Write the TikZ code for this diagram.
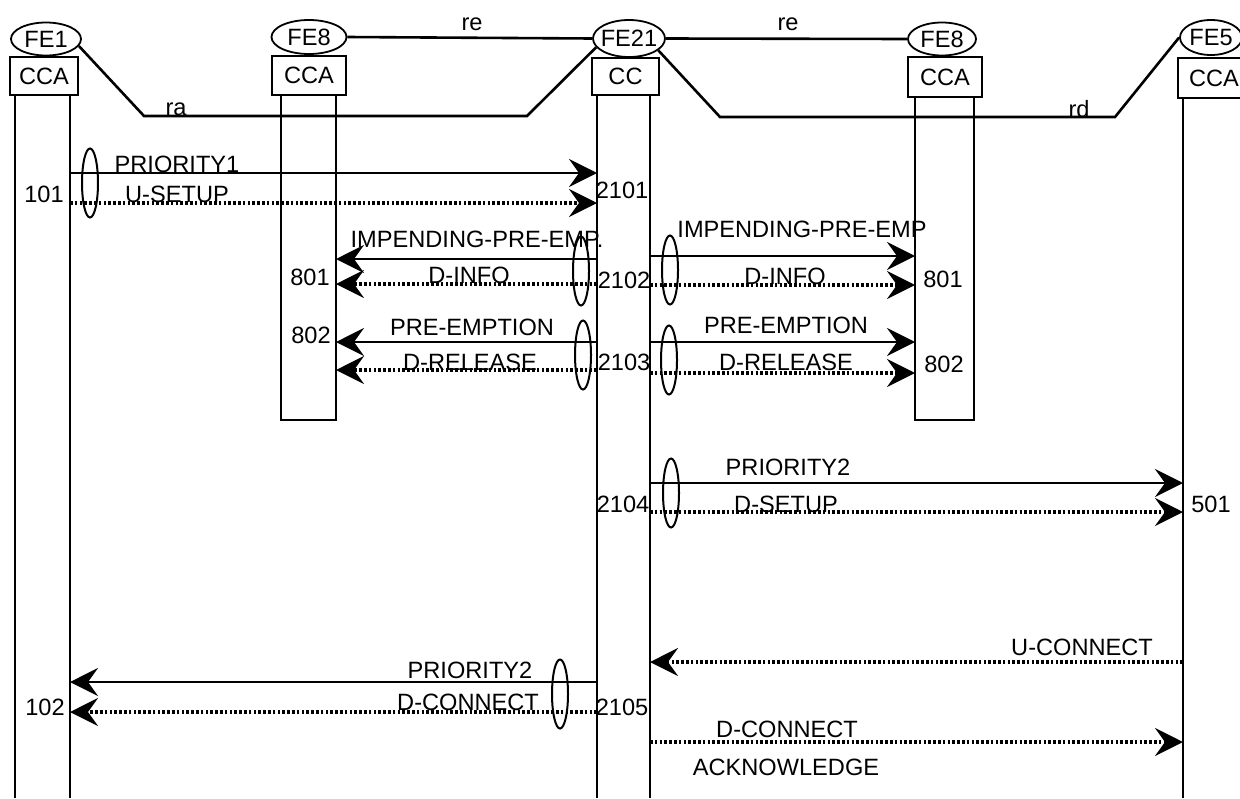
\documentclass[tikz,border=0pt]{standalone}
\usepackage{fontspec}
\setmainfont{Liberation Sans}
\usepackage{tikz}
\usetikzlibrary{arrows.meta,positioning,shapes.geometric,calc}

\begin{document}
\begin{tikzpicture}[
  x=0.5pt, y=-0.5pt,
  font=\fontsize{11.8}{13}\selectfont,
  fe/.style = {ellipse, draw, line width=0.9pt, inner sep=0pt},
  box/.style = {rectangle, draw, line width=1.3pt, inner sep=0pt},
  oval/.style = {ellipse, draw, line width=1pt, inner sep=0pt,
    minimum width=8pt, minimum height=34.5pt},
  life/.style = {line width=1.2pt},
  link/.style = {line width=1.3pt},
  sig/.style = {line width=1.4pt, -{Stealth[length=14pt,width=14pt,inset=5pt]}},
  dsig/.style = {sig, line width=1.6pt, dash pattern=on 1.3pt off 1.1pt},
  lbl/.style = {inner sep=0pt, anchor=base}
]
  \useasboundingbox (0,0) rectangle (1240,798);
  \clip (0,0) rectangle (1240,798);

  % functional entities
  \node[fe, minimum width=35pt, minimum height=16.5pt, label=center:FE1]  (fe1)  at (46,39)     {};
  \node[fe, minimum width=37.5pt, minimum height=17pt, label=center:FE8] (fe8a) at (309,37)    {};
  \node[fe, minimum width=36pt, minimum height=18.5pt, label=center:FE21] (fe21) at (629,38.5) {};
  \node[fe, minimum width=34pt, minimum height=16.5pt, label=center:FE8] (fe8b) at (942,39)    {};
  \node[fe, minimum width=31pt, minimum height=17.5pt, label=center:FE5] (fe5)  at (1211,37.5) {};

  \node[box, minimum width=34pt, minimum height=19pt]     (cca1)  at (44,76)     {CCA};
  \node[box, minimum width=37pt, minimum height=19.5pt]   (cca8a) at (309,75.5)  {CCA};
  \node[box, minimum width=33.5pt, minimum height=18.5pt] (cc21)  at (625.5,76.5) {CC};
  \node[box, minimum width=37pt, minimum height=20pt]     (cca8b) at (945,77)    {CCA};
  \node[box, minimum width=36pt, minimum height=20pt]     (cca5)  at (1214,78)   {CCA};

  % lifelines
  \draw[life] (15,95) -- (15,798);
  \draw[life] (70,95) -- (70,798);
  \draw[life] (281,95) rectangle (336,420);
  \draw[life] (597,95) -- (597,798);
  \draw[life] (650,95) -- (650,798);
  \draw[life] (915,97) rectangle (974,420);
  \draw[life] (1183,98) -- (1183,798);

  % relationships
  \coordinate (ra1) at (144,116);
  \coordinate (ra2) at (527,116);
  \coordinate (rd1) at (720,117);
  \coordinate (rd2) at (1115,117);
  \draw[link] (fe8a.east) -- (fe21.west);
  \draw[link] (fe21.east) -- (fe8b.west);
  \draw[link] (fe1.-12) -- (ra1) -- (ra2) -- (fe21.195);
  \draw[link] (fe21.-22) -- (rd1) -- (rd2) -- (fe5.west);
  \node[lbl] (lre1) at (472,30)  {re};
  \node[lbl] (lre2) at (788,30)  {re};
  \node[lbl] (lra)  at (176,115) {ra};
  \node[lbl] (lrd)  at (1079,117) {rd};

  % message ends on the lifelines
  \coordinate (p1)   at (70,0);
  \coordinate (p8a)  at (336,0);
  \coordinate (p21l) at (597,0);
  \coordinate (p21r) at (650,0);
  \coordinate (p8b)  at (915,0);
  \coordinate (p5)   at (1183,0);

  \coordinate (m1)  at (0,173);
  \coordinate (m2)  at (0,203);
  \coordinate (m3)  at (0,259);
  \coordinate (m4)  at (0,284);
  \coordinate (m5)  at (0,256);
  \coordinate (m6)  at (0,285);
  \coordinate (m7)  at (0,342);
  \coordinate (m8)  at (0,370);
  \coordinate (m9)  at (0,373);
  \coordinate (m10) at (0,483);
  \coordinate (m11) at (0,512);
  \coordinate (m12) at (0,662);
  \coordinate (m13) at (0,682);
  \coordinate (m14) at (0,712);
  \coordinate (m15) at (0,742);

  % set up
  \draw[sig]  (p1 |- m1) -- (p21l |- m1);
  \draw[dsig] (p1 |- m2) -- (p21l |- m2);
  \node[lbl] (t1)  at (177,172) {PRIORITY1};
  \node[lbl] (t2)  at (177,202) {U-SETUP};
  \node[lbl] (n101)  at (44,202)  {101};
  \node[lbl] (n2101) at (622,198) {2101};
  \node[oval] (o1) at (90,183) {};

  % pre-emption towards both FE8
  \draw[sig]  (p21l |- m3) -- (p8a |- m3);
  \draw[dsig] (p21l |- m4) -- (p8a |- m4);
  \draw[sig]  (p21r |- m5) -- (p8b |- m5);
  \draw[dsig] (p21r |- m6) -- (p8b |- m6);
  \node[lbl] (t3) at (477,247) {IMPENDING-PRE-EMP.};
  \node[lbl] (t4) at (469,283) {D-INFO};
  \node[lbl] (t5) at (802,237) {IMPENDING-PRE-EMP};
  \node[lbl] (t6) at (785,284) {D-INFO};
  \node[lbl] (n801a) at (310,285) {801};
  \node[lbl] (n2102) at (624,288) {2102};
  \node[lbl] (n801b) at (943,287) {801};
  \node[oval] (o2) at (581,271) {};
  \node[oval] (o3) at (670,270) {};

  \draw[sig]  (p21l |- m7) -- (p8a |- m7);
  \draw[dsig] (p21l |- m8) -- (p8a |- m8);
  \draw[sig]  (p21r |- m7) -- (p8b |- m7);
  \draw[dsig] (p21r |- m9) -- (p8b |- m9);
  \node[lbl] (t7)  at (472,335) {PRE-EMPTION};
  \node[lbl] (t8)  at (470,370) {D-RELEASE};
  \node[lbl] (t9)  at (786,333) {PRE-EMPTION};
  \node[lbl] (t10) at (786,370) {D-RELEASE};
  \node[lbl] (n802a) at (311,343) {802};
  \node[lbl] (n2103) at (624,370) {2103};
  \node[lbl] (n802b) at (944,372) {802};
  \node[oval] (o4) at (583,355) {};
  \node[oval] (o5) at (669,360) {};

  % set up towards FE5
  \draw[sig]  (p21r |- m10) -- (p5 |- m10);
  \draw[dsig] (p21r |- m11) -- (p5 |- m11);
  \node[lbl] (t11) at (788,475) {PRIORITY2};
  \node[lbl] (t12) at (786,512) {D-SETUP};
  \node[lbl] (n2104) at (623,512)  {2104};
  \node[lbl] (n501)  at (1211,512) {501};
  \node[oval] (o6) at (671,493) {};

  % connect
  \draw[dsig] (p5 |- m12) -- (p21r |- m12);
  \node[lbl] (t13) at (1082,655) {U-CONNECT};
  \draw[sig]  (p21l |- m13) -- (p1 |- m13);
  \draw[dsig] (p21l |- m14) -- (p1 |- m14);
  \node[lbl] (t14) at (470,678) {PRIORITY2};
  \node[lbl] (t15) at (468,710) {D-CONNECT};
  \node[lbl] (n102)  at (45,715)  {102};
  \node[lbl] (n2105) at (622,715) {2105};
  \node[oval] (o7) at (560,694) {};
  \draw[dsig] (p21r |- m15) -- (p5 |- m15);
  \node[lbl] (t16) at (787,737) {D-CONNECT};
  \node[lbl] (t17) at (786,775) {ACKNOWLEDGE};
\end{tikzpicture}
\end{document}
